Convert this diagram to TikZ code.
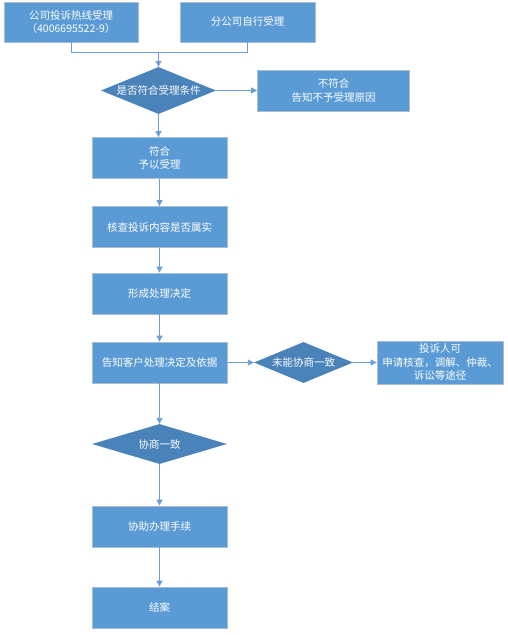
\documentclass[tikz,border=0pt]{standalone}
\usepackage{fontspec}
\newfontfamily\cjk{Noto Sans CJK SC}
\usetikzlibrary{shapes.geometric,arrows.meta}
\definecolor{boxfill}{HTML}{5B9BD5}
\definecolor{boxline}{HTML}{A9BCD0}
\definecolor{dfill}{HTML}{4A82BA}
\definecolor{arrowc}{HTML}{6A9FD6}
\tikzset{
  box/.style={draw=boxline, line width=0.8pt, fill=boxfill, text=white, font=\cjk\fontsize{10.5}{13.5}\selectfont, align=center, inner sep=0pt},
  dia/.style={diamond, fill=dfill, text=white, font=\cjk\fontsize{10.5}{13.5}\selectfont, inner sep=0pt, aspect=2.8},
  conn/.style={draw=arrowc, line width=0.9pt, -{Triangle[width=6pt,length=6pt]}},
  seg/.style={draw=arrowc, line width=0.9pt},
}
\begin{document}
\begin{tikzpicture}[x=1pt,y=-1pt]
\useasboundingbox (0,0) rectangle (507,635);
% boxes
\node[box, minimum width=134pt, minimum height=40pt] (b1) at (71,22) {公司投诉热线受理\\（4006695522-9）};
\node[box, minimum width=135pt, minimum height=40pt] (b2) at (247.5,22) {分公司自行受理};
\node[dia, minimum width=115pt, minimum height=47pt] (d1) at (158.5,90.5) {是否符合受理条件};
\node[box, minimum width=152pt, minimum height=41pt] (b3) at (333.5,90.5) {不符合\\告知不予受理原因};
\node[box, minimum width=135pt, minimum height=41pt] (b4) at (159.5,158) {符合\\予以受理};
\node[box, minimum width=135pt, minimum height=41pt] (b5) at (159.5,227) {核查投诉内容是否属实};
\node[box, minimum width=135pt, minimum height=41pt] (b6) at (159.5,293.5) {形成处理决定};
\node[box, minimum width=135pt, minimum height=41pt] (b7) at (159.5,362.5) {告知客户处理决定及依据};
\node[dia, minimum width=99pt, minimum height=41pt] (d2) at (303.5,362.5) {未能协商一致};
\node[box, minimum width=126pt, minimum height=43pt] (b8) at (440,362.5) {投诉人可\\申请核查，调解、仲裁、\\诉讼等途径};
\node[dia, minimum width=135pt, minimum height=40pt] (d3) at (159.5,444) {协商一致};
\node[box, minimum width=135pt, minimum height=41pt] (b9) at (159.5,526.5) {协助办理手续};
\node[box, minimum width=135pt, minimum height=41pt] (b10) at (159.5,607.5) {结案};
% connectors
\coordinate (j) at (158.5,52);
\draw[seg] (b1.south) |- (j);
\draw[seg] (b2.south) |- (j);
\draw[conn] (j) -- (d1.north);
\draw[conn] (d1.east) -- (b3.west);
\draw[conn] (d1.south) -- (b4.north -| d1.south);
\draw[conn] (b4) -- (b5);
\draw[conn] (b5) -- (b6);
\draw[conn] (b6) -- (b7);
\draw[conn] (b7) -- (d2);
\draw[conn] (d2) -- (b8);
\draw[conn] (b7) -- (d3);
\draw[conn] (d3) -- (b9);
\draw[conn] (b9) -- (b10);
\end{tikzpicture}
\end{document}
